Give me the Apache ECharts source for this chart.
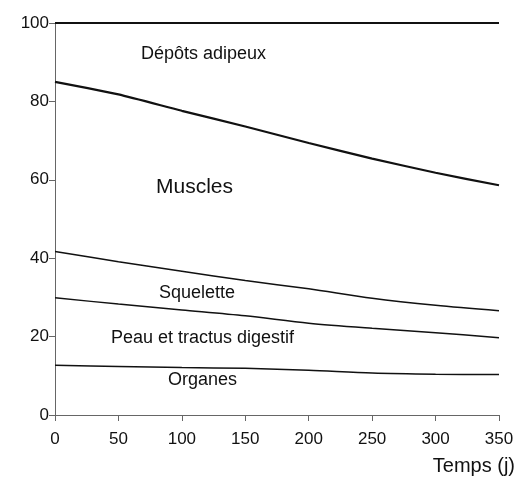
<!DOCTYPE html>
<html>
<head>
<meta charset="utf-8">
<script src="https://cdn.jsdelivr.net/npm/echarts@6/dist/echarts.min.js"></script>
<style>
html,body{margin:0;padding:0;background:#fff;}
#chart{width:517px;height:478px;}
</style>
</head>
<body>
<div id="chart"></div>
<script>
// Time (days)
var days = [0, 50, 100, 150, 200, 250, 300, 350];
// Cumulative upper boundaries of each compartment (% of body weight)
var organesTop   = [12.7, 12.4, 12.1, 11.9, 11.4, 10.7, 10.4, 10.3];
var peauTop      = [29.9, 28.3, 26.8, 25.3, 23.4, 22.1, 21.0, 19.7];
var squeletteTop = [41.7, 39.1, 36.7, 34.3, 32.2, 29.8, 28.0, 26.6];
var musclesTop   = [85.0, 81.8, 77.6, 73.6, 69.4, 65.4, 61.8, 58.6];
var totalTop     = [100, 100, 100, 100, 100, 100, 100, 100];

var xTicks = [0, 50, 100, 150, 200, 250, 300, 350];
var yTicks = [0, 20, 40, 60, 80, 100];

var regionLabels = ['Dépôts adipeux', 'Muscles', 'Squelette', 'Peau et tractus digestif', 'Organes'];
var xAxisTitle = 'Temps (j)';

var FONT = '"Liberation Sans", Arial, Helvetica, sans-serif';

function pairs(ys) { return days.map(function (d, i) { return [d, ys[i]]; }); }

function lineSeries(name, ys, w, smooth) {
  return {
    name: name, type: 'line', data: pairs(ys), showSymbol: false, symbol: 'none',
    smooth: smooth, clip: false, silent: true,
    lineStyle: { color: '#111', width: w }
  };
}

var chart = echarts.init(document.getElementById('chart'), null, { renderer: 'canvas' });
chart.setOption({
  animation: false,
  backgroundColor: '#fff',
  grid: { left: 55, right: 18, top: 23, bottom: 63, containLabel: false },
  xAxis: {
    type: 'value', min: xTicks[0], max: xTicks[xTicks.length - 1], interval: 50,
    axisLine: { lineStyle: { color: '#666', width: 1 } },
    axisTick: { show: true, length: 6, inside: false, lineStyle: { color: '#666' } },
    axisLabel: { color: '#111', fontSize: 17, fontFamily: FONT, margin: 16 },
    splitLine: { show: false }
  },
  yAxis: {
    type: 'value', min: yTicks[0], max: yTicks[yTicks.length - 1], interval: 20,
    axisLine: { show: true, lineStyle: { color: '#666', width: 1 } },
    axisTick: { show: true, length: 6, inside: false, lineStyle: { color: '#666' } },
    axisLabel: { color: '#111', fontSize: 17, fontFamily: FONT, margin: 6 },
    splitLine: { show: false }
  },
  series: [
    lineSeries('Organes', organesTop, 1.5, 0.3),
    lineSeries('Peau et tractus digestif', peauTop, 1.5, 0.3),
    lineSeries('Squelette', squeletteTop, 1.5, 0.3),
    lineSeries('Muscles', musclesTop, 2.2, 0.2),
    lineSeries('Dépôts adipeux', totalTop, 2, false)
  ],
  graphic: [
    { type: 'text', left: 141, top: 45, style: { text: regionLabels[0], font: '18px ' + FONT, fill: '#111' } },
    { type: 'text', left: 156, top: 177, style: { text: regionLabels[1], font: '21px ' + FONT, fill: '#111' } },
    { type: 'text', left: 159, top: 284, style: { text: regionLabels[2], font: '18px ' + FONT, fill: '#111' } },
    { type: 'text', left: 111, top: 329, style: { text: regionLabels[3], font: '18px ' + FONT, fill: '#111' } },
    { type: 'text', left: 168, top: 371, style: { text: regionLabels[4], font: '18px ' + FONT, fill: '#111' } },
    { type: 'text', right: 2, top: 456, style: { text: xAxisTitle, font: '20px ' + FONT, fill: '#111' } }
  ]
});
</script>
</body>
</html>
